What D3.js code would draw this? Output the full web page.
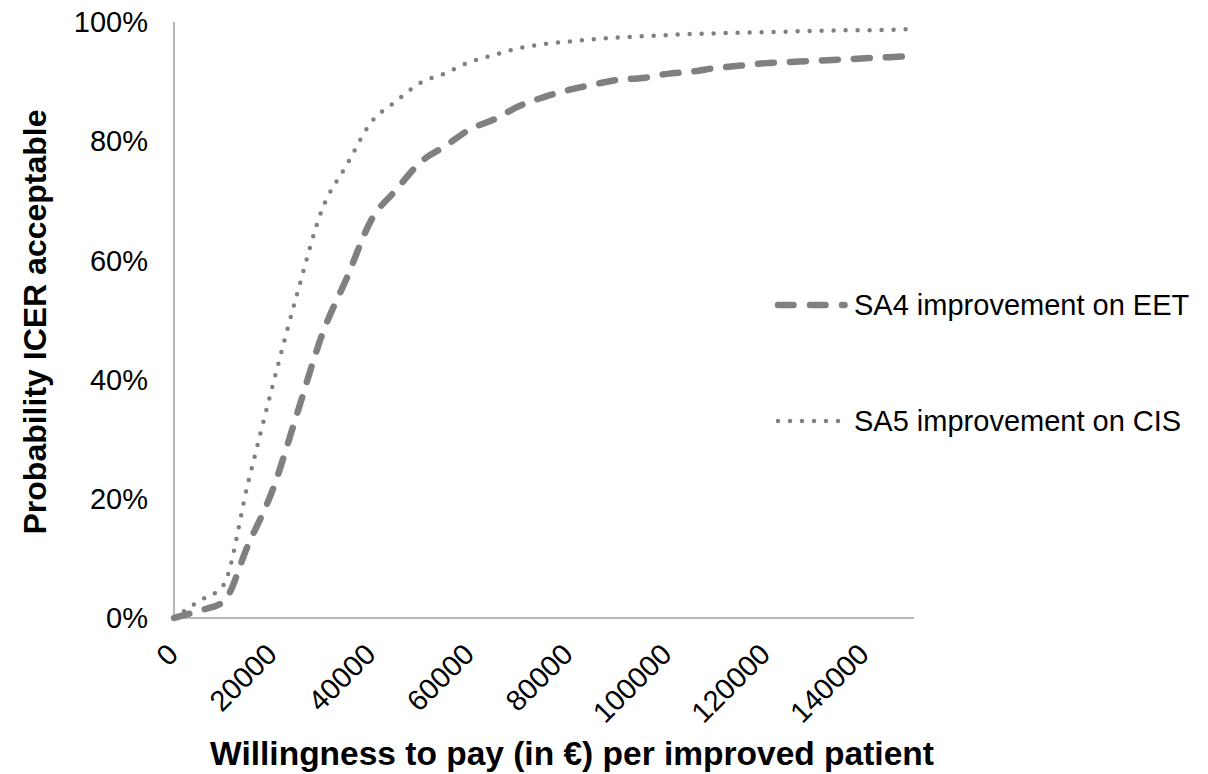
<!DOCTYPE html>
<html>
<head>
<meta charset="utf-8">
<script src="https://cdn.jsdelivr.net/npm/d3@7"></script>
<style>
  html, body { margin: 0; padding: 0; background: #fff; }
  svg { display: block; font-family: "Liberation Sans", Arial, sans-serif; }
</style>
</head>
<body>
<svg id="chart" width="1208" height="774"></svg>
<script>
// ---- data ----
const wtp = [0, 5000, 10000, 15000, 20000, 25000, 30000, 35000, 40000, 45000, 50000,
  55000, 60000, 65000, 70000, 75000, 80000, 85000, 90000, 95000, 100000,
  105000, 110000, 115000, 120000, 125000, 130000, 135000, 140000, 145000, 150000];
const sa4 = [0, 0.012, 0.027, 0.122, 0.215, 0.344, 0.475, 0.570, 0.668, 0.718, 0.765,
  0.792, 0.820, 0.837, 0.859, 0.874, 0.886, 0.895, 0.903, 0.906, 0.913,
  0.917, 0.923, 0.927, 0.931, 0.933, 0.935, 0.937, 0.939, 0.941, 0.943];
const sa5 = [0, 0.028, 0.055, 0.226, 0.390, 0.545, 0.685, 0.760, 0.832, 0.867, 0.898,
  0.914, 0.933, 0.945, 0.956, 0.963, 0.967, 0.971, 0.974, 0.976, 0.978,
  0.980, 0.981, 0.982, 0.983, 0.984, 0.985, 0.986, 0.986, 0.987, 0.988];
const xTicks = [0, 20000, 40000, 60000, 80000, 100000, 120000, 140000];
const yTicks = [0, 0.2, 0.4, 0.6, 0.8, 1.0];
const seriesNames = ["SA4 improvement on EET", "SA5 improvement on CIS"];
const xTitle = "Willingness to pay (in €) per improved patient";
const yTitle = "Probability ICER acceptable";

// ---- layout ----
const svg = d3.select("#chart");
const plotL = 174, plotR = 914, plotT = 22, plotB = 618;
const x = d3.scaleLinear().domain([0, 150000]).range([plotL, plotR]);
const y = d3.scaleLinear().domain([0, 1]).range([plotB, plotT]);
const lineColor = "#808080";
const axisColor = "#a0a0a0";

// axes lines
svg.append("line").attr("x1", plotL).attr("x2", plotL).attr("y1", plotT).attr("y2", plotB)
  .attr("stroke", axisColor).attr("stroke-width", 1.5);
svg.append("line").attr("x1", plotL).attr("x2", plotR).attr("y1", plotB).attr("y2", plotB)
  .attr("stroke", axisColor).attr("stroke-width", 1.5);

// y tick labels
const pct = d3.format(".0%");
svg.append("g").selectAll("text").data(yTicks).join("text")
  .attr("x", 148).attr("y", d => y(d)).attr("dy", "0.35em")
  .attr("text-anchor", "end").attr("font-size", 29).attr("fill", "#000")
  .text(d => pct(d));

// x tick labels (rotated)
svg.append("g").selectAll("text").data(xTicks).join("text")
  .attr("transform", d => `translate(${x(d) + 6},${plotB + 38}) rotate(-45)`)
  .attr("text-anchor", "end").attr("font-size", 29).attr("fill", "#000")
  .text(d => String(d));

// axis titles
svg.append("text").attr("x", 572).attr("y", 765).attr("text-anchor", "middle")
  .attr("font-size", 33.5).attr("font-weight", "bold").attr("fill", "#000").text(xTitle);
svg.append("text").attr("transform", "translate(46,322) rotate(-90)").attr("text-anchor", "middle")
  .attr("font-size", 32).attr("font-weight", "bold").attr("fill", "#000").text(yTitle);

// lines
const line = d3.line().x((d, i) => x(wtp[i])).y(d => y(d)).curve(d3.curveMonotoneX);
svg.append("path").datum(sa4).attr("d", line).attr("fill", "none")
  .attr("stroke", lineColor).attr("stroke-width", 6.5).attr("stroke-linecap", "round")
  .attr("stroke-dasharray", "16,16");
svg.append("path").datum(sa5).attr("d", line).attr("fill", "none")
  .attr("stroke", lineColor).attr("stroke-width", 4.5).attr("stroke-linecap", "round")
  .attr("stroke-dasharray", "0,12");

// legend
const lg = svg.append("g");
lg.append("line").attr("x1", 778).attr("x2", 844.5).attr("y1", 305).attr("y2", 305)
  .attr("stroke", lineColor).attr("stroke-width", 6.5).attr("stroke-linecap", "round")
  .attr("stroke-dasharray", "15.5,16.5");
lg.append("text").attr("x", 854).attr("y", 305).attr("dy", "0.35em").attr("font-size", 29)
  .attr("fill", "#000").text(seriesNames[0]);
lg.append("line").attr("x1", 778).attr("x2", 840).attr("y1", 421).attr("y2", 421)
  .attr("stroke", lineColor).attr("stroke-width", 4.5).attr("stroke-linecap", "round")
  .attr("stroke-dasharray", "0,12");
lg.append("text").attr("x", 854).attr("y", 421).attr("dy", "0.35em").attr("font-size", 29)
  .attr("fill", "#000").text(seriesNames[1]);
</script>
</body>
</html>
